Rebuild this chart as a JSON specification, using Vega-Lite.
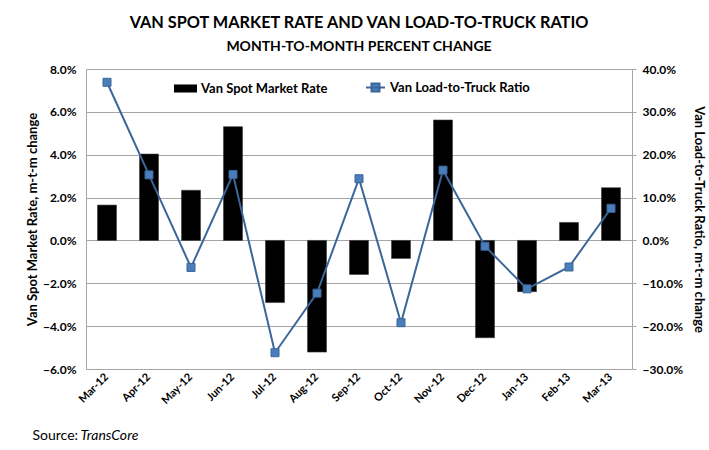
{
  "$schema": "https://vega.github.io/schema/vega-lite/v6.json",
  "autosize": "none",
  "width": 546,
  "height": 300,
  "padding": {"left": 86, "top": 69, "right": 77, "bottom": 81},
  "background": "white",
  "config": {
    "font": "Lato",
    "view": {"stroke": null},
    "axis": {"labelFont": "Lato", "titleFont": "Lato", "labelColor": "#000000", "titleColor": "#000000"}
  },
  "title": {
    "text": "VAN SPOT MARKET RATE AND VAN LOAD-TO-TRUCK RATIO",
    "subtitle": "MONTH-TO-MONTH PERCENT CHANGE",
    "anchor": "middle",
    "fontSize": 16.3,
    "fontWeight": "bold",
    "color": "#000000",
    "subtitleFontSize": 14,
    "subtitleFontWeight": "bold",
    "subtitleColor": "#000000",
    "subtitlePadding": 9,
    "offset": 9,
    "font": "Lato",
    "subtitleFont": "Lato"
  },
  "data": {
    "values": [
      {"month": "Mar-12", "rate": 1.65, "ratio": 36.9},
      {"month": "Apr-12", "rate": 4.03, "ratio": 15.3},
      {"month": "May-12", "rate": 2.34, "ratio": -6.3},
      {"month": "Jun-12", "rate": 5.31, "ratio": 15.4},
      {"month": "Jul-12", "rate": -2.9, "ratio": -26.2},
      {"month": "Aug-12", "rate": -5.21, "ratio": -12.3},
      {"month": "Sep-12", "rate": -1.59, "ratio": 14.4},
      {"month": "Oct-12", "rate": -0.84, "ratio": -19.2},
      {"month": "Nov-12", "rate": 5.62, "ratio": 16.4},
      {"month": "Dec-12", "rate": -4.54, "ratio": -1.35},
      {"month": "Jan-13", "rate": -2.39, "ratio": -11.3},
      {"month": "Feb-13", "rate": 0.84, "ratio": -6.2},
      {"month": "Mar-13", "rate": 2.46, "ratio": 7.5}
    ]
  },
  "layer": [
    {
      "mark": {"type": "bar", "size": 19, "stroke": "#3a3a3a", "strokeWidth": 0.6},
      "encoding": {
        "x": {
          "field": "month", "type": "ordinal", "sort": null,
          "scale": {"paddingInner": 0.5, "paddingOuter": 0.25},
          "axis": {
            "orient": "bottom",
            "labelAngle": -45, "labelAlign": "right", "labelBaseline": "middle",
            "labelFontSize": 11, "labelFontWeight": "bold", "labelPadding": 6,
            "ticks": false, "domain": false, "grid": false,
            "title": "Source:", "titleFontSize": 14, "titleFontWeight": "normal",
            "titleAnchor": "start", "titleAlign": "left", "titleBaseline": "middle",
            "titleX": -54, "titleY": 66
          }
        },
        "y": {
          "field": "rate", "type": "quantitative",
          "scale": {"domain": [-6, 8], "nice": false, "zero": false},
          "axis": {
            "orient": "left",
            "values": [-6, -4, -2, 0, 2, 4, 6, 8],
            "labelExpr": "format(datum.value, '.1f') + '%'",
            "labelFontSize": 12, "labelFontWeight": "bold", "labelPadding": 10,
            "ticks": false, "domainColor": "#a6a6a6",
            "grid": true, "gridColor": "#a6a6a6", "gridWidth": 1,
            "title": "Van Spot Market Rate, m-t-m change",
            "titleFontSize": 13, "titleFontWeight": "bold", "titlePadding": 3
          }
        },
        "color": {
          "datum": "Van Spot Market Rate",
          "scale": {"domain": ["Van Spot Market Rate"], "range": ["#000000"]},
          "legend": {
            "orient": "none", "legendX": 88, "legendY": 8,
            "title": null,
            "symbolType": "M-1,-0.35H1V0.35H-1Z", "symbolSize": 529,
            "symbolStrokeWidth": 0,
            "labelFontSize": 13, "labelFontWeight": "bold", "labelColor": "#000000",
            "labelFont": "Lato", "labelOffset": 4
          }
        }
      }
    },
    {
      "mark": {
        "type": "line", "strokeWidth": 2, "color": "#3b6699",
        "point": {"shape": "square", "size": 64, "filled": true, "fill": "#4a7ebb", "stroke": "#2f5b8f", "strokeWidth": 1}
      },
      "encoding": {
        "x": {
          "field": "month", "type": "ordinal", "sort": null,
          "axis": {
            "orient": "bottom", "labels": false, "ticks": false, "domain": false, "grid": false,
            "title": "TransCore", "titleFontSize": 14, "titleFontWeight": "normal", "titleFontStyle": "italic",
            "titleAnchor": "start", "titleAlign": "left", "titleBaseline": "middle",
            "titleX": -6, "titleY": 66
          }
        },
        "y": {
          "field": "ratio", "type": "quantitative",
          "scale": {"domain": [-30, 40], "nice": false, "zero": false},
          "axis": {
            "orient": "right",
            "values": [-30, -20, -10, 0, 10, 20, 30, 40],
            "labelExpr": "format(datum.value, '.1f') + '%'",
            "labelFontSize": 12, "labelFontWeight": "bold", "labelPadding": 6,
            "ticks": true, "tickSize": 4, "tickColor": "#a6a6a6", "domainColor": "#a6a6a6",
            "grid": false,
            "title": "Van Load-to-Truck Ratio, m-t-m change",
            "titleFontSize": 13, "titleFontWeight": "bold", "titlePadding": 9
          }
        },
        "stroke": {
          "datum": "Van Load-to-Truck Ratio",
          "scale": {"domain": ["Van Load-to-Truck Ratio"], "range": ["#3b6699"]},
          "legend": {
            "orient": "none", "legendX": 279, "legendY": 8,
            "title": null,
            "symbolType": "M-1,0H1M-0.42,-0.42H0.42V0.42H-0.42Z", "symbolSize": 361,
            "symbolFillColor": "#4a7ebb", "symbolStrokeWidth": 2,
            "labelFontSize": 13, "labelFontWeight": "bold", "labelColor": "#000000",
            "labelFont": "Lato", "labelOffset": 4
          }
        }
      }
    }
  ],
  "resolve": {"scale": {"y": "independent"}, "axis": {"x": "independent"}}
}
